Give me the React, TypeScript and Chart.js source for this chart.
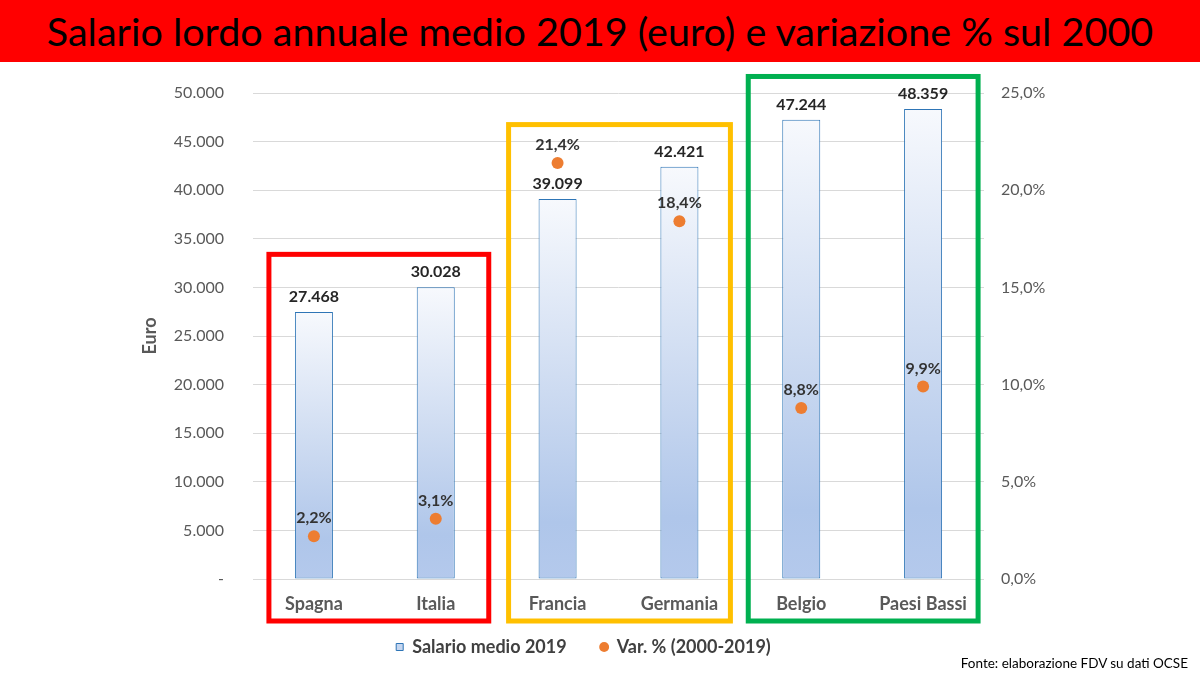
import React, { useEffect, useRef } from 'react';
import { Chart, registerables } from 'chart.js';

Chart.register(...registerables);

// ---- Data ----
const countries = ['Spagna', 'Italia', 'Francia', 'Germania', 'Belgio', 'Paesi Bassi'];
const salary2019 = [27468, 30028, 39099, 42421, 47244, 48359];
const variationPct = [2.2, 3.1, 21.4, 18.4, 8.8, 9.9];
const seriesNames = ['Salario medio 2019', 'Var. % (2000-2019)'];
const euroAxis = { min: 0, max: 50000, step: 5000 };
const pctAxis = { min: 0, max: 25, step: 5 };
const titleText = 'Salario lordo annuale medio 2019 (euro) e variazione % sul 2000';
const sourceText = 'Fonte: elaborazione FDV su dati OCSE';
const yTitle = 'Euro';

// Group boxes (category index range + top value on euro axis)
const groupFrom = [0, 2, 4];
const groupTo = [1, 3, 5];
const groupTopValue = [33400, 46750, 51700];
const groupColors = ['#FF0000', '#FFC000', '#00B050'];
const groupPadLeft = [45, 49, 53];
const groupPadRight = [53, 51, 55];
const BOX_BOTTOM_OFFSET = 42;

const FONT = 'Lato';
const AXIS_COLOR = '#595959';

const fmtEuro = (v: number) => String(Math.round(v)).replace(/\B(?=(\d{3})+(?!\d))/g, '.');
const fmtPct = (v: number) => Number(v).toFixed(1).replace('.', ',') + '%';

const barGradient = (c: any) => {
  const fallback = '#C5D6F0';
  if (c.type !== 'data') return fallback;
  const chart = c.chart;
  if (!chart.chartArea || !chart.scales || !chart.scales.y) return fallback;
  const y = chart.scales.y;
  const top = y.getPixelForValue(c.raw);
  const base = y.getPixelForValue(0);
  if (!isFinite(top) || !isFinite(base) || top === base) return fallback;
  const g = chart.ctx.createLinearGradient(0, top, 0, base);
  g.addColorStop(0, '#F7F9FD');
  g.addColorStop(0.55, '#C9D8F0');
  g.addColorStop(0.85, '#AFC6EA');
  g.addColorStop(1, '#B4C9EC');
  return g;
};

const groupBoxPlugin = {
  id: 'groupBoxes',
  afterDatasetsDraw(chart: any) {
    const { ctx } = chart;
    const x = chart.scales.x;
    const y = chart.scales.y;
    ctx.save();
    ctx.lineWidth = 5;
    groupFrom.forEach((from, i) => {
      const l = x.getPixelForValue(from) - groupPadLeft[i];
      const r = x.getPixelForValue(groupTo[i]) + groupPadRight[i];
      const t = y.getPixelForValue(groupTopValue[i]);
      const b = y.getPixelForValue(0) + BOX_BOTTOM_OFFSET;
      ctx.strokeStyle = groupColors[i];
      ctx.strokeRect(l, t, r - l, b - t);
    });
    ctx.restore();
  },
};

const valueLabelPlugin = {
  id: 'valueLabels',
  afterDatasetsDraw(chart: any) {
    const ctx = chart.ctx;
    ctx.save();
    ctx.textAlign = 'center';
    ctx.textBaseline = 'middle';
    ctx.font = `bold 16px ${FONT}`;
    chart.data.datasets.forEach((ds: any, di: number) => {
      const meta = chart.getDatasetMeta(di);
      meta.data.forEach((el: any, i: number) => {
        const v = ds.data[i];
        if (meta.type === 'bar') {
          ctx.fillStyle = '#262626';
          ctx.fillText(fmtEuro(v), el.x, el.y - 15);
        } else {
          ctx.fillStyle = '#333333';
          ctx.fillText(fmtPct(v), el.x, el.y - 18);
        }
      });
    });
    ctx.restore();
  },
};

export default function App() {
  const canvasRef = useRef<HTMLCanvasElement | null>(null);

  useEffect(() => {
    if (!canvasRef.current) return;
    const chart = new Chart(canvasRef.current, {
      type: 'bar',
      data: {
        labels: countries,
        datasets: [
          {
            type: 'bar',
            label: seriesNames[0],
            data: salary2019,
            yAxisID: 'y',
            backgroundColor: barGradient,
            borderColor: '#2E75B6',
            borderWidth: 1,
            borderSkipped: false,
            barPercentage: 0.312,
            categoryPercentage: 1,
            order: 1,
          } as any,
          {
            type: 'line',
            label: seriesNames[1],
            data: variationPct,
            yAxisID: 'y1',
            showLine: false,
            pointRadius: 6,
            pointHoverRadius: 6,
            pointBorderWidth: 0,
            pointBackgroundColor: '#ED7D31',
            backgroundColor: '#ED7D31',
            borderColor: '#ED7D31',
            order: 0,
          } as any,
        ],
      },
      options: {
        responsive: false,
        animation: false,
        events: [],
        layout: { padding: { top: 93, left: 0, right: 33, bottom: 9 } },
        plugins: {
          tooltip: { enabled: false },
          legend: {
            position: 'bottom',
            labels: {
              usePointStyle: true,
              boxWidth: 7,
              boxHeight: 7,
              padding: 34,
              color: '#404040',
              font: { family: FONT, size: 18, weight: 'bold' },
              generateLabels: () => [
                {
                  text: seriesNames[0],
                  fillStyle: '#C5D6F0',
                  strokeStyle: '#2E75B6',
                  lineWidth: 1,
                  pointStyle: 'rect',
                  datasetIndex: 0,
                  hidden: false,
                  fontColor: '#404040',
                },
                {
                  text: seriesNames[1],
                  fillStyle: '#ED7D31',
                  strokeStyle: '#ED7D31',
                  lineWidth: 0,
                  pointStyle: 'circle',
                  datasetIndex: 1,
                  hidden: false,
                  fontColor: '#404040',
                },
              ] as any,
            },
          },
        },
        scales: {
          x: {
            grid: { display: false, drawTicks: false },
            border: { display: false },
            ticks: {
              color: AXIS_COLOR,
              mirror: true,
              padding: -36,
              font: { family: FONT, size: 18, weight: 'bold' },
            },
            afterFit: (s: any) => {
              s.height = 25;
            },
          },
          y: {
            position: 'left',
            min: euroAxis.min,
            max: euroAxis.max,
            grid: { color: '#D9D9D9', drawTicks: false, lineWidth: 1 },
            border: { display: false },
            ticks: {
              stepSize: euroAxis.step,
              color: AXIS_COLOR,
              padding: 29,
              font: { family: FONT, size: 16 },
              callback: (v: any) => (Number(v) === 0 ? '-' : fmtEuro(Number(v))),
            },
            title: {
              display: true,
              text: yTitle,
              color: AXIS_COLOR,
              font: { family: FONT, size: 18, weight: 'bold' },
              padding: { top: 139, bottom: 0 },
            },
            afterFit: (s: any) => {
              s.width = 253;
            },
          },
          y1: {
            position: 'right',
            min: pctAxis.min,
            max: pctAxis.max,
            grid: { display: false, drawTicks: false },
            border: { display: false },
            ticks: {
              stepSize: pctAxis.step,
              color: AXIS_COLOR,
              padding: 17,
              font: { family: FONT, size: 16 },
              callback: (v: any) => fmtPct(Number(v)),
            },
            afterFit: (s: any) => {
              s.width = 183;
            },
          },
        },
      } as any,
      plugins: [groupBoxPlugin, valueLabelPlugin],
    });
    return () => chart.destroy();
  }, []);

  return (
    <div
      style={{
        position: 'fixed',
        left: 0,
        top: 0,
        width: 1200,
        height: 675,
        background: '#FFFFFF',
        overflow: 'hidden',
      }}
    >
      <canvas
        ref={canvasRef}
        width={1200}
        height={675}
        style={{ position: 'absolute', left: 0, top: 0, width: 1200, height: 675 }}
      />
      <div
        style={{
          position: 'absolute',
          left: 0,
          top: 0,
          width: 1200,
          height: 62,
          background: '#FF0000',
          color: '#000000',
          fontFamily: FONT,
          fontSize: 39.5,
          lineHeight: '62px',
          textAlign: 'center',
          whiteSpace: 'nowrap',
        }}
      >
        {titleText}
      </div>
      <div
        style={{
          position: 'absolute',
          right: 12,
          top: 655,
          fontFamily: FONT,
          fontSize: 13.5,
          lineHeight: '16px',
          color: '#000000',
          whiteSpace: 'nowrap',
        }}
      >
        {sourceText}
      </div>
    </div>
  );
}
